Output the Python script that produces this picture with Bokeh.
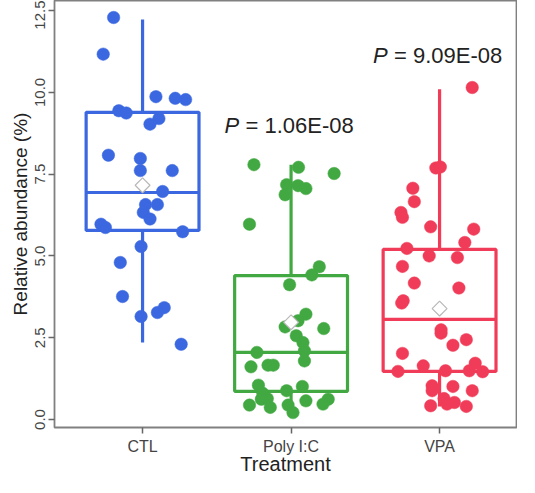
from bokeh.plotting import figure
from bokeh.models import ColumnDataSource, FixedTicker
from bokeh.core.properties import value
from bokeh.embed import file_html
from bokeh.resources import INLINE

# ---- data ----
categories = ["CTL", "Poly I:C", "VPA"]
colors = ["#3b68e0", "#42a942", "#f03c58"]

ctl_y = [12.29, 11.17, 9.87, 9.82, 9.78, 9.44, 9.37, 9.20, 9.03, 8.08, 7.98, 7.61, 7.61,
         6.97, 6.57, 6.57, 6.33, 6.13, 5.97, 5.87, 5.74, 5.29, 4.80, 3.76, 3.42, 3.27, 3.15, 2.30]
ctl_dx = [-0.195, -0.265, 0.09, 0.22, 0.29, -0.16, -0.11, 0.11, 0.05, -0.23, -0.015, -0.015, 0.20,
          0.135, 0.02, 0.10, 0.005, 0.05, -0.28, -0.25, 0.27, -0.01, -0.15, -0.135, 0.146, 0.10, -0.01, 0.26]

poly_y = [7.79, 7.71, 7.52, 7.18, 7.15, 7.06, 6.87, 5.97, 4.67, 4.42, 4.12, 3.22, 3.02, 2.83,
          2.78, 2.56, 2.35, 2.10, 2.05, 1.79, 1.66, 1.66, 1.61, 1.05, 1.01, 0.88, 0.80, 0.64,
          0.62, 0.62, 0.57, 0.47, 0.44, 0.44, 0.37, 0.21]
poly_dx = [-0.25, 0.05, 0.29, -0.03, 0.047, 0.10, -0.04, -0.28, 0.19, 0.14, -0.01, 0.10, 0.047, -0.04,
           0.22, 0.035, 0.08, 0.09, -0.23, 0.09, -0.155, -0.12, -0.27, -0.22, 0.076, -0.03, -0.19, -0.16,
           0.25, -0.2, 0.10, 0.215, -0.28, -0.02, -0.14, 0.013]

vpa_y = [10.15, 7.69, 7.72, 7.07, 6.66, 6.33, 6.18, 5.89, 5.82, 5.41, 5.23, 5.00, 4.95, 4.68, 4.17,
         4.02, 3.63, 3.56, 2.74, 2.64, 2.44, 2.27, 2.02, 1.72, 1.64, 1.49, 1.49, 1.47, 1.46, 1.03,
         1.01, 0.88, 0.88, 0.64, 0.52, 0.47, 0.42, 0.40]
vpa_dx = [0.22, -0.025, 0.005, -0.18, -0.17, -0.26, -0.25, -0.06, 0.23, 0.17, -0.22, -0.07, 0.12, -0.25, -0.17,
          0.13, -0.245, -0.255, 0.01, 0.01, 0.18, 0.09, -0.25, 0.24, -0.11, 0.04, 0.20, -0.28, 0.29, -0.05,
          0.09, 0.22, -0.05, 0.03, 0.10, 0.05, -0.06, 0.18]

# box statistics
box_q1 = [5.78, 0.86, 1.47]
box_med = [6.94, 2.05, 3.06]
box_q3 = [9.39, 4.40, 5.20]
box_lo = [2.35, 0.21, 0.40]
box_hi = [12.23, 7.79, 10.10]
box_mean = [7.16, 2.97, 3.39]

y_ticks = [0.0, 2.5, 5.0, 7.5, 10.0, 12.5]
y_tick_labels = ["0.0", "2.5", "5.0", "7.5", "10.0", "12.5"]

ann_cat = ["Poly I:C", "VPA"]
ann_y = [8.99, 11.13]
ann_text = ["= 1.06E-08", "= 9.09E-08"]

FONT = "Liberation Sans"

# ---- figure ----
p = figure(frame_width=462, frame_height=427, output_backend="svg", toolbar_location=None,
           x_range=(0.407, 3.518), y_range=(-0.245, 12.81),
           min_border_left=54, min_border_right=1, min_border_top=0, min_border_bottom=10)
p.background_fill_color = "white"
p.border_fill_color = "white"
p.outline_line_color = "#808080"
p.outline_line_width = 1.8
p.xgrid.visible = False
p.ygrid.visible = False

pos = {c: i + 1 for i, c in enumerate(categories)}
xc = [pos[c] for c in categories]
hw = 0.38

box_src = ColumnDataSource(dict(x=xc, q1=box_q1, med=box_med, q3=box_q3, lo=box_lo, hi=box_hi,
                                mean=box_mean, color=colors,
                                left=[x - hw for x in xc], right=[x + hw for x in xc]))

# whiskers
p.segment(x0="x", y0="q3", x1="x", y1="hi", source=box_src, line_color="color", line_width=3.2)
p.segment(x0="x", y0="lo", x1="x", y1="q1", source=box_src, line_color="color", line_width=3.2)
# boxes
p.quad(left="left", right="right", bottom="q1", top="q3", source=box_src,
       fill_color=None, line_color="color", line_width=3.2)
# medians
p.segment(x0="left", y0="med", x1="right", y1="med", source=box_src, line_color="color", line_width=3.2)

# jittered points
for cat, ys, dxs, col in zip(categories, [ctl_y, poly_y, vpa_y], [ctl_dx, poly_dx, vpa_dx], colors):
    src = ColumnDataSource(dict(x=[pos[cat] + d for d in dxs], y=ys))
    p.scatter("x", "y", source=src, size=12.5, fill_color=col, line_color=col, line_width=0.5)

# mean diamonds
p.scatter("x", "mean", source=box_src, marker="square", angle=0.785398, size=10.5,
          fill_color="white", line_color="#b8b8b8", line_width=1.2)

# annotations
ann_src = ColumnDataSource(dict(x=[pos[c] - 0.448 for c in ann_cat], y=ann_y, t=ann_text))
p.text(x="x", y="y", text=value("P"), source=ann_src, text_font=value(FONT),
       text_font_style="italic", text_font_size="22px", text_align="left",
       text_baseline="middle", text_color="#222222")
p.text(x="x", y="y", text="t", source=ann_src, text_font=value(FONT), x_offset=21,
       text_font_size="22px", text_align="left", text_baseline="middle", text_color="#222222")

# axes
p.xaxis.ticker = FixedTicker(ticks=xc)
p.xaxis.major_label_overrides = {pos[c]: c for c in categories}
p.yaxis.ticker = FixedTicker(ticks=y_ticks)
p.yaxis.major_label_overrides = {t: l for t, l in zip(y_ticks, y_tick_labels)}
p.yaxis.major_label_orientation = "vertical"

for ax in (p.xaxis, p.yaxis):
    ax.axis_line_color = None
    ax.minor_tick_line_color = None
    ax.major_tick_line_color = "#666666"
    ax.major_tick_line_width = 1.5
    ax.major_tick_out = 6
    ax.major_tick_in = 0
    ax.major_label_text_font = FONT
    ax.major_label_text_color = "#444444"
    ax.axis_label_text_font = FONT
    ax.axis_label_text_font_style = "normal"
    ax.axis_label_text_color = "#222222"

p.xaxis.major_label_standoff = 4
p.yaxis.major_label_standoff = 3
p.xaxis.major_label_text_font_size = "16px"
p.yaxis.major_label_text_font_size = "15px"
p.xaxis.axis_label = "Treatment"
p.yaxis.axis_label = "Relative abundance (%)"
p.xaxis.axis_label_text_font_size = "20px"
p.yaxis.axis_label_text_font_size = "19px"
p.xaxis.axis_label_standoff = -5
p.yaxis.axis_label_standoff = 2

open("out.html", "w").write(file_html(p, INLINE))
